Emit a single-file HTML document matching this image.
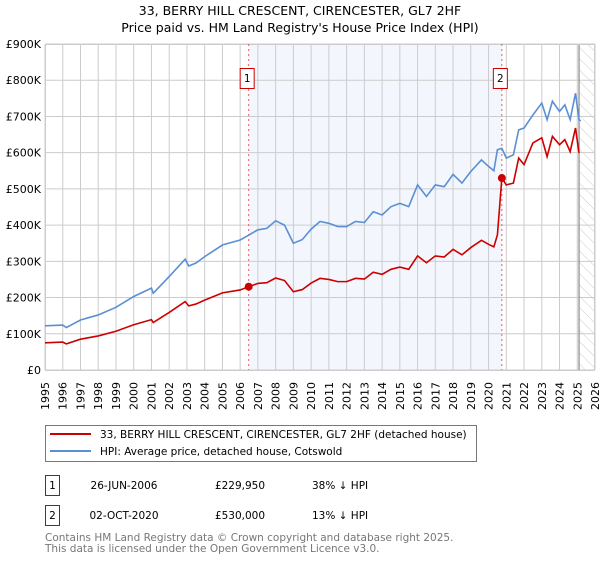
<!DOCTYPE html>
<html><head><meta charset="utf-8"><style>
body{margin:0;background:#fff;}
svg text{font-family:"DejaVu Sans","Liberation Sans",sans-serif;}
</style></head><body>
<svg id="chart" width="600" height="560" viewBox="0 0 600 560" xmlns="http://www.w3.org/2000/svg">
<defs><pattern id="hatch" patternUnits="userSpaceOnUse" width="8" height="8" patternTransform="rotate(-45)"><line x1="0" y1="0" x2="0" y2="8" stroke="#ccc" stroke-width="1"/></pattern></defs>
<text x="300" y="15" text-anchor="middle" font-size="12.5">33, BERRY HILL CRESCENT, CIRENCESTER, GL7 2HF</text>
<text x="300" y="32" text-anchor="middle" font-size="12.5">Price paid vs. HM Land Registry's House Price Index (HPI)</text>
<g id="plot"></g>
<rect x="45.5" y="425.5" width="431" height="36" fill="#fff" stroke="#777"/>
<line x1="50" y1="434" x2="91" y2="434" stroke="#cc0000" stroke-width="2"/>
<text x="100" y="438" font-size="10.5">33, BERRY HILL CRESCENT, CIRENCESTER, GL7 2HF (detached house)</text>
<line x1="50" y1="451" x2="91" y2="451" stroke="#5b8fd4" stroke-width="2"/>
<text x="100" y="455" font-size="10.5">HPI: Average price, detached house, Cotswold</text>
<g font-size="10.5">
<rect x="45.5" y="475.5" width="14" height="20" fill="#fff" stroke="#cc0000"/>
<text x="52.5" y="489" text-anchor="middle">1</text>
<text x="124" y="489" text-anchor="middle">26-JUN-2006</text>
<text x="240" y="489" text-anchor="middle">£229,950</text>
<text x="312" y="489">38% ↓ HPI</text></g>
<g font-size="10.5">
<rect x="45.5" y="505.5" width="14" height="20" fill="#fff" stroke="#cc0000"/>
<text x="52.5" y="519" text-anchor="middle">2</text>
<text x="124" y="519" text-anchor="middle">02-OCT-2020</text>
<text x="240" y="519" text-anchor="middle">£530,000</text>
<text x="312" y="519">13% ↓ HPI</text></g>
<text x="45" y="541" font-size="10.5" fill="#777">Contains HM Land Registry data © Crown copyright and database right 2025.</text>
<text x="45" y="552" font-size="10.5" fill="#777">This data is licensed under the Open Government Licence v3.0.</text>
</svg>
<script>
const hpiYears=[1995,1996,1996.2,1997,1998,1999,2000,2001,2001.1,2002,2002.9,2003.1,2003.5,2004,2005,2006,2006.5,2007,2007.5,2008,2008.5,2009,2009.5,2010,2010.5,2011,2011.5,2012,2012.5,2013,2013.5,2014,2014.5,2015,2015.5,2016,2016.5,2017,2017.5,2018,2018.5,2019,2019.6,2020,2020.3,2020.5,2020.75,2021,2021.4,2021.7,2022,2022.5,2023,2023.3,2023.6,2024,2024.3,2024.6,2024.9,2025.1,2025.2];
const hpiValues=[122,124,117,138,152,173,203,226,212,258,306,287,295,313,345,359,373,387,391,412,400,350,360,389,410,405,396,396,410,407,437,428,451,460,451,511,479,511,506,540,516,548,580,562,550,608,612,585,594,663,668,704,737,691,742,714,732,691,764,691,688];
const redYears=[1995,1996,1996.2,1997,1998,1999,2000,2001,2001.1,2002,2002.9,2003.1,2003.5,2004,2005,2006,2006.48,2007,2007.5,2008,2008.5,2009,2009.5,2010,2010.5,2011,2011.5,2012,2012.5,2013,2013.5,2014,2014.5,2015,2015.5,2016,2016.5,2017,2017.5,2018,2018.5,2019,2019.6,2020,2020.3,2020.5,2020.75,2021,2021.4,2021.7,2022,2022.5,2023,2023.3,2023.6,2024,2024.3,2024.6,2024.9,2025.1];
const redValues=[75,77,72,85,94,107,125,139,131,159,189,177,182,193,213,221,230,239,241,254,247,216,222,240,253,250,244,244,253,251,270,264,278,284,278,315,296,315,312,333,318,338,358,347,340,373,530,511,516,585,567,627,641,589,645,622,636,603,668,599];
const saleYears=[2006.48,2020.75];
const saleValues=[229.95,530];
const saleLabels=["1","2"];
const yTicks=[0,100,200,300,400,500,600,700,800,900];
const yTickLabels=["£0","£100K","£200K","£300K","£400K","£500K","£600K","£700K","£800K","£900K"];
const xTicks=[];for(let y=1995;y<=2026;y++)xTicks.push(y);
const X0=45,X1=595,Y0=370,Y1=44;
const sx=y=>X0+(y-1995)*(X1-X0)/31;
const sy=v=>Y0-v*(Y0-Y1)/900;
const NS="http://www.w3.org/2000/svg";
const g=document.getElementById('plot');
function mk(t,a,p){const e=document.createElementNS(NS,t);for(const k in a)e.setAttribute(k,a[k]);(p||g).appendChild(e);return e;}
const shade=mk('rect',{x:sx(saleYears[0]),y:Y1,width:sx(saleYears[1])-sx(saleYears[0]),height:Y0-Y1,fill:'#eef3fc',opacity:0.7});


const hat=mk('rect',{x:sx(2025.1),y:Y1,width:X1-sx(2025.1),height:Y0-Y1,fill:'url(#hatch)'});


yTicks.forEach((v,i)=>{
 mk('line',{x1:X0,x2:X1,y1:sy(v),y2:sy(v),stroke:'#ccc'});
 const t=mk('text',{x:X0-4,y:sy(v)+4,'text-anchor':'end','font-size':'11'});t.textContent=yTickLabels[i];
 
 
});
xTicks.forEach(y=>{
 mk('line',{x1:sx(y),x2:sx(y),y1:Y1,y2:Y0,stroke:'#ccc'});
 const t=mk('text',{x:0,y:0,'text-anchor':'end','font-size':'11',transform:`translate(${sx(y)+4},${Y0+12}) rotate(-90)`});t.textContent=y;
 
 
});
mk('line',{x1:sx(2025.1),x2:sx(2025.1),y1:Y1,y2:Y0,stroke:'#888','stroke-width':1.2});
mk('rect',{x:X0+0.5,y:Y1+0.5,width:X1-X0-1,height:Y0-Y1,fill:'none',stroke:'#ccc'});
saleYears.forEach((y,i)=>{
 mk('line',{x1:sx(y),x2:sx(y),y1:Y1,y2:Y0,stroke:'#e06060','stroke-dasharray':'2,3'});
 const b=mk('rect',{x:sx(y)-8.5,y:68.5,width:14,height:20,fill:'#fff',stroke:'#cc0000'});
 
 
 const t=mk('text',{x:sx(y)-1.5,y:82,'text-anchor':'middle','font-size':'10.5'});t.textContent=saleLabels[i];
});
const hp=mk('polyline',{points:hpiYears.map((y,i)=>sx(y)+','+sy(hpiValues[i])).join(' '),fill:'none',stroke:'#5b8fd4','stroke-width':1.6});


const rp=mk('polyline',{points:redYears.map((y,i)=>sx(y)+','+sy(redValues[i])).join(' '),fill:'none',stroke:'#cc0000','stroke-width':1.6});


saleYears.forEach((y,i)=>{
 const c=mk('circle',{cx:sx(y),cy:sy(saleValues[i]),r:4,fill:'#cc0000'});
 
 
});
</script>
</body></html>
